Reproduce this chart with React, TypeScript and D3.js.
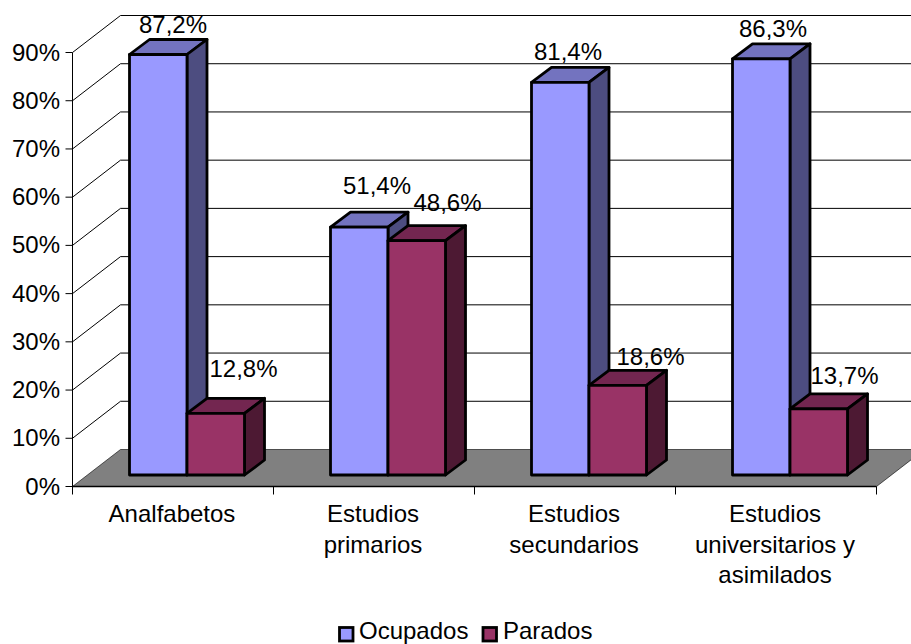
import React from "react";
import * as d3 from "d3";

const categories = ["Analfabetos", "Estudios primarios", "Estudios secundarios", "Estudios universitarios y asimilados"];
const categoryLines = [["Analfabetos"], ["Estudios", "primarios"], ["Estudios", "secundarios"], ["Estudios", "universitarios y", "asimilados"]];
const ocupados = [87.2, 51.4, 81.4, 86.3];
const parados = [12.8, 48.6, 18.6, 13.7];
const ticks = [0, 10, 20, 30, 40, 50, 60, 70, 80, 90];

const FONT = "'Liberation Sans', Arial, sans-serif";
const FS = 24;
const X0 = 72.5, X1 = 876.5, Y0 = 486.5, Y90 = 52.5;
const WALL_DX = 48, WALL_DY = -37;
const DEPTH_DX = 20, DEPTH_DY = -15;
const BASE_Y = 475;

// label nudges relative to the bar's top-front-left corner
const occNudge = [[43, -22], [46, -33], [36, -22], [40, -22]];
const parNudge = [[56, -36], [59, -30], [61, -20], [54, -25]];

const seriesStyle = [
  { name: "Ocupados", front: "#9999FF", side: "#4D4D80", top: "#7373BF", values: ocupados, nudge: occNudge },
  { name: "Parados", front: "#993366", side: "#4D1933", top: "#732650", values: parados, nudge: parNudge },
];

export default function App() {
  const y = d3.scaleLinear().domain([0, 90]).range([Y0, Y90]);
  const x = d3.scaleBand<string>().domain(categories).range([X0, X1]);
  const barW = 57.5;
  const h = (v: number) => Y0 - y(v);
  const fmt = (v: number) => v.toFixed(1).replace(".", ",") + "%";

  return (
    <svg width={911} height={644} style={{ position: "absolute", left: 0, top: 0, background: "#fff" }} fontFamily={FONT} fontSize={FS} fill="#000">
      <polygon points={`${X0},${Y0} ${X0 + WALL_DX},${Y0 + WALL_DY} ${X1 + WALL_DX},${Y0 + WALL_DY} ${X1},${Y0}`} fill="#808080" stroke="#000" strokeWidth={0.6} />
      {ticks.map((t) => (
        <g key={t}>
          {t > 0 && (
            <polyline points={`${X0},${y(t)} ${X0 + WALL_DX},${y(t) + WALL_DY} 911,${y(t) + WALL_DY}`} fill="none" stroke="#000" strokeWidth={1} />
          )}
          <line x1={X0 - 7} x2={X0} y1={y(t)} y2={y(t)} stroke="#000" />
          <text x={60} y={y(t) + 8} textAnchor="end">{t}%</text>
        </g>
      ))}
      <line x1={X0} x2={X0} y1={y(90)} y2={Y0 + 8} stroke="#000" />
      <line x1={X0} x2={X1} y1={Y0} y2={Y0} stroke="#000" strokeWidth={1.5} />
      {categories.map((c) => (
        <line key={c} x1={x(c)! + x.bandwidth()} x2={x(c)! + x.bandwidth()} y1={Y0} y2={Y0 + 8} stroke="#000" />
      ))}
      {categories.map((c, i) => {
        const bx = x(c)! + 57;
        return seriesStyle.map((s, si) => {
          const v = s.values[i];
          const L = bx + si * barW;
          const R = L + barW;
          const T = BASE_Y - h(v);
          return (
            <g key={c + s.name} stroke="#000" strokeWidth={2.8} strokeLinejoin="round">
              <polygon points={`${L},${T} ${L + DEPTH_DX},${T + DEPTH_DY} ${R + DEPTH_DX},${T + DEPTH_DY} ${R},${T}`} fill={s.top} />
              <polygon points={`${R},${T} ${R + DEPTH_DX},${T + DEPTH_DY} ${R + DEPTH_DX},${BASE_Y + DEPTH_DY} ${R},${BASE_Y}`} fill={s.side} />
              <rect x={L} y={T} width={barW} height={BASE_Y - T} fill={s.front} />
            </g>
          );
        });
      })}
      {categories.map((c, i) =>
        seriesStyle.map((s, si) => {
          const L = x(c)! + 57.5 + si * barW;
          const T = BASE_Y - h(s.values[i]);
          return (
            <text key={c + s.name} x={L + s.nudge[i][0]} y={T + s.nudge[i][1]} textAnchor="middle">{fmt(s.values[i])}</text>
          );
        })
      )}
      {categories.map((c, i) => (
        <text key={c} textAnchor="middle">
          {categoryLines[i].map((l, j) => (
            <tspan key={j} x={x(c)! + x.bandwidth() / 2 - 1} y={522 + j * 30.5}>{l}</tspan>
          ))}
        </text>
      ))}
      <rect x={339.5} y={627.5} width={13.5} height={13.5} fill="#9999FF" stroke="#000" strokeWidth={2.8} />
      <text x={359} y={639}>Ocupados</text>
      <rect x={483} y={627.5} width={13.5} height={13.5} fill="#993366" stroke="#000" strokeWidth={2.8} />
      <text x={503} y={639}>Parados</text>
    </svg>
  );
}
